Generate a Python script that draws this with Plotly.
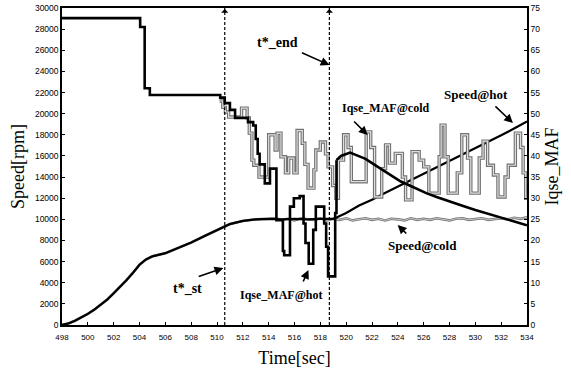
import plotly.graph_objects as go

# ---------------- data ----------------
# common speed ramp-up (both hot and cold), rpm
ramp_t = [498, 498.5, 499, 499.5, 500, 500.5, 501, 501.5, 502, 502.5, 503, 503.5,
          504, 504.5, 505, 506, 507, 508, 509, 510, 511, 512, 513, 514]
ramp_v = [0, 150, 400, 700, 1050, 1450, 1900, 2400, 3000, 3600, 4250, 4950,
          5700, 6200, 6500, 6800, 7300, 7800, 8400, 9000, 9550, 9850, 10000, 10050]

# Speed@cold after 514 s (flat, slightly noisy)
cold_speed_t = [514.5, 515, 515.5, 516, 516.5, 517, 517.5, 518, 518.5, 519, 519.5, 520,
                520.5, 521, 521.5, 522, 522.5, 523, 523.5, 524, 524.5, 525, 525.5, 526,
                526.5, 527, 527.5, 528, 528.5, 529, 529.5, 530, 530.5, 531, 531.5, 532,
                532.5, 533, 533.5, 534]
cold_speed_v = [10100, 9950, 10050, 9900, 10100, 10000, 9950, 10100, 9900, 10050, 9950, 10100,
                9900, 10000, 10100, 9950, 10050, 9900, 10050, 10000, 9900, 10100, 9950, 10050,
                9950, 10100, 10000, 9900, 10050, 10100, 9950, 10000, 10100, 9950, 10050, 10100,
                10000, 10150, 10050, 10200]

# Speed@hot after 514 s (flat, then rising after t*_end)
hot_speed_t = [515, 516, 517, 518, 519, 519.3, 520, 521, 522, 523, 524, 525, 526,
               527, 528, 529, 530, 531, 532, 533, 534]
hot_speed_v = [10000, 10050, 10000, 10050, 10050, 10200, 10600, 11300, 11850, 12500, 13100,
               13700, 14350, 14900, 15500, 16150, 16700, 17350, 17950, 18600, 19250]

# Iqse_MAF@hot, stepped part
iqse_hot_t = [498, 504.05, 504.4, 504.8, 510.25, 510.6, 511.0, 511.4, 512.4, 512.8, 513.0,
              513.15, 513.3, 513.7, 514.1, 514.6, 515.1, 515.2, 515.65, 515.95, 516.4,
              516.7, 516.85, 517.1, 517.45, 517.65, 518.3, 518.45, 518.6, 519.15, 519.25]
iqse_hot_v = [72.6, 70.5, 56.0, 54.4, 53.8, 52.5, 50.9, 49.0, 48.0, 47.2, 44.0,
              40.5, 38.0, 33.5, 37.0, 24.8, 17.5, 16.5, 28.0, 30.0, 30.5,
              24.0, 19.4, 14.5, 22.5, 28.0, 24.0, 18.5, 11.5, 26.5, 39.0]
# Iqse_MAF@hot, smooth decay after t*_end
iqse_hot_tail_t = [519.25, 519.6, 520.3, 521, 521.5, 522, 522.7, 523.5, 524.2, 525, 526.2,
                   527, 528, 529, 530, 531, 532, 533, 534]
iqse_hot_tail_v = [39.0, 40.0, 40.8, 40.0, 39.3, 38.3, 36.9, 35.5, 34.0, 32.9, 31.2,
                   30.3, 29.2, 28.2, 27.2, 26.3, 25.3, 24.5, 23.6]

# Iqse_MAF@cold (diverges from hot at ~510.2 s)
iqse_cold_t = [510.2, 510.45, 510.65, 510.9, 511.9, 512.33, 512.5, 512.7, 512.85, 513.25,
               514.0, 514.5, 514.65, 514.95, 515.3, 515.55, 515.95, 516.2, 516.6, 516.8,
               517.05, 517.5, 517.65, 518.0, 518.4, 518.6, 518.95, 519.2, 519.4, 519.8,
               520.15, 520.4, 521.55, 521.9, 522.2, 522.75, 523.05, 523.35, 523.8, 524.35,
               524.6, 525.1, 525.65, 526.0, 526.4, 527.2, 527.35, 527.65, 527.9, 528.6,
               528.95, 529.4, 529.65, 530.3, 530.6, 530.95, 531.4, 531.75, 532.3, 532.55,
               533.1, 533.5, 533.7, 533.9, 534]
iqse_cold_v = [53.0, 51.5, 50.4, 49.2, 51.3, 49.0, 45.4, 39.0, 37.8, 35.0,
               45.0, 41.4, 45.4, 39.8, 36.0, 39.5, 36.0, 46.0, 43.0, 38.0,
               32.4, 36.7, 41.4, 43.3, 40.5, 37.4, 33.0, 30.0, 39.0, 45.0,
               42.0, 33.9, 45.7, 42.0, 30.3, 37.0, 42.6, 38.3, 40.6, 35.0,
               29.6, 41.0, 39.0, 37.4, 31.2, 39.8, 47.3, 39.8, 31.2, 36.0,
               45.0, 39.5, 31.2, 39.5, 43.5, 37.8, 35.5, 30.3, 35.0, 37.8,
               45.4, 42.0, 36.0, 30.0, 30.0]

t_st, t_end = 510.6, 518.7

x_ticks = list(range(498, 535, 2))
left_ticks = list(range(0, 30001, 2000))
right_ticks = list(range(0, 76, 5))

# ---------------- figure ----------------
fig = go.Figure()
GRAY_OUT, GRAY_IN = "#727272", "#dedede"

speed_cold_t = ramp_t + cold_speed_t
speed_cold_v = ramp_v + cold_speed_v
speed_hot_t = ramp_t + hot_speed_t
speed_hot_v = ramp_v + hot_speed_v

# Speed@cold (gray hollow line)
fig.add_trace(go.Scatter(x=speed_cold_t, y=speed_cold_v, mode="lines",
                         line=dict(color=GRAY_OUT, width=2.6), yaxis="y", showlegend=False))
fig.add_trace(go.Scatter(x=speed_cold_t, y=speed_cold_v, mode="lines",
                         line=dict(color=GRAY_IN, width=0.8), yaxis="y", showlegend=False))
# Speed@hot
fig.add_trace(go.Scatter(x=speed_hot_t, y=speed_hot_v, mode="lines",
                         line=dict(color="black", width=2.2), yaxis="y", showlegend=False))
# Iqse_MAF@cold (gray hollow step line)
fig.add_trace(go.Scatter(x=iqse_cold_t, y=iqse_cold_v, mode="lines",
                         line=dict(color=GRAY_OUT, width=3.4, shape="hv"), yaxis="y2",
                         showlegend=False))
fig.add_trace(go.Scatter(x=iqse_cold_t, y=iqse_cold_v, mode="lines",
                         line=dict(color=GRAY_IN, width=1.2, shape="hv"), yaxis="y2",
                         showlegend=False))
# Iqse_MAF@hot
fig.add_trace(go.Scatter(x=iqse_hot_t, y=iqse_hot_v, mode="lines",
                         line=dict(color="black", width=2.6, shape="hv"), yaxis="y2",
                         showlegend=False))
fig.add_trace(go.Scatter(x=iqse_hot_tail_t, y=iqse_hot_tail_v, mode="lines",
                         line=dict(color="black", width=2.6), yaxis="y2", showlegend=False))

# vertical dashed markers
for tv in (t_st, t_end):
    fig.add_shape(type="line", x0=tv, x1=tv, y0=0, y1=1, xref="x", yref="paper",
                  line=dict(color="black", width=1.2, dash="3px,2px"))
    fig.add_annotation(x=tv, y=29900, xref="x", yref="y", ax=tv, ay=29400,
                       axref="x", ayref="y", text="", showarrow=True,
                       arrowhead=1, arrowsize=1.2, arrowwidth=1, arrowcolor="black")

LBL = dict(family="Liberation Serif", color="black")
labels = [
    ("<b>t*_end</b>", 514.68, 26700, 14),
    ("<b>t*_st</b>", 507.7, 3500, 14),
    ("<b>Iqse_MAF@hot</b>", 514.99, 2840, 12),
    ("<b>Iqse_MAF@cold</b>", 523.06, 20540, 12),
    ("<b>Speed@hot</b>", 530.04, 21770, 13),
    ("<b>Speed@cold</b>", 525.93, 7570, 13),
]
for txt, xv, yv, sz in labels:
    fig.add_annotation(x=xv, y=yv, xref="x", yref="y", text=txt, showarrow=False,
                       font=dict(size=sz, **LBL))

arrows = [
    (516.46, 25835, 518.71, 24600),
    (508.47, 4540, 510.49, 5390),
    (516.62, 3975, 517.08, 5205),
    (520.5, 19400, 521.66, 17980),
    (531.44, 20820, 532.91, 19115),
    (524.77, 8517, 523.99, 9463),
]
for tx, ty, hx, hy in arrows:
    fig.add_annotation(x=hx, y=hy, ax=tx, ay=ty, xref="x", yref="y", axref="x", ayref="y",
                       text="", showarrow=True, arrowhead=2, arrowsize=1.1,
                       arrowwidth=1.6, arrowcolor="black")

TICKF = dict(family="Liberation Sans", size=8.5, color="black")
TITLEF = dict(family="Liberation Serif", size=18, color="black")

fig.update_layout(
    width=571, height=376,
    margin=dict(l=62, r=44, t=8, b=51),
    paper_bgcolor="white", plot_bgcolor="white",
    showlegend=False,
    xaxis=dict(range=[498, 534], tickvals=x_ticks, ticktext=[str(v) for v in x_ticks],
               showgrid=False, zeroline=False, showline=True, linecolor="black",
               linewidth=1.5, mirror=True, ticks="inside", ticklen=3, tickcolor="black",
               automargin=False, ticklabelstandoff=4,
               tickfont=dict(family="Liberation Sans", size=8, color="black"),
               title=dict(text="Time[sec]", font=TITLEF, standoff=10)),
    yaxis=dict(range=[0, 30000], tickvals=left_ticks, ticktext=[str(v) for v in left_ticks],
               showgrid=False, zeroline=False, showline=True, linecolor="black",
               linewidth=1.5, ticks="inside", ticklen=3, tickcolor="black", automargin=False,
               tickfont=TICKF, title=dict(text="Speed[rpm]", font=TITLEF, standoff=6)),
    yaxis2=dict(range=[0, 75], tickvals=right_ticks, ticktext=[str(v) for v in right_ticks],
                overlaying="y", side="right", showgrid=False, zeroline=False,
                showline=True, linecolor="black", linewidth=1.5, ticks="inside",
                ticklen=3, tickcolor="black", tickfont=TICKF, automargin=False,
                title=dict(text="Iqse_MAF", font=TITLEF, standoff=6)),
)

fig.write_html("out.html", config={"displayModeBar": False},
               post_script="document.body.style.margin='0';")
